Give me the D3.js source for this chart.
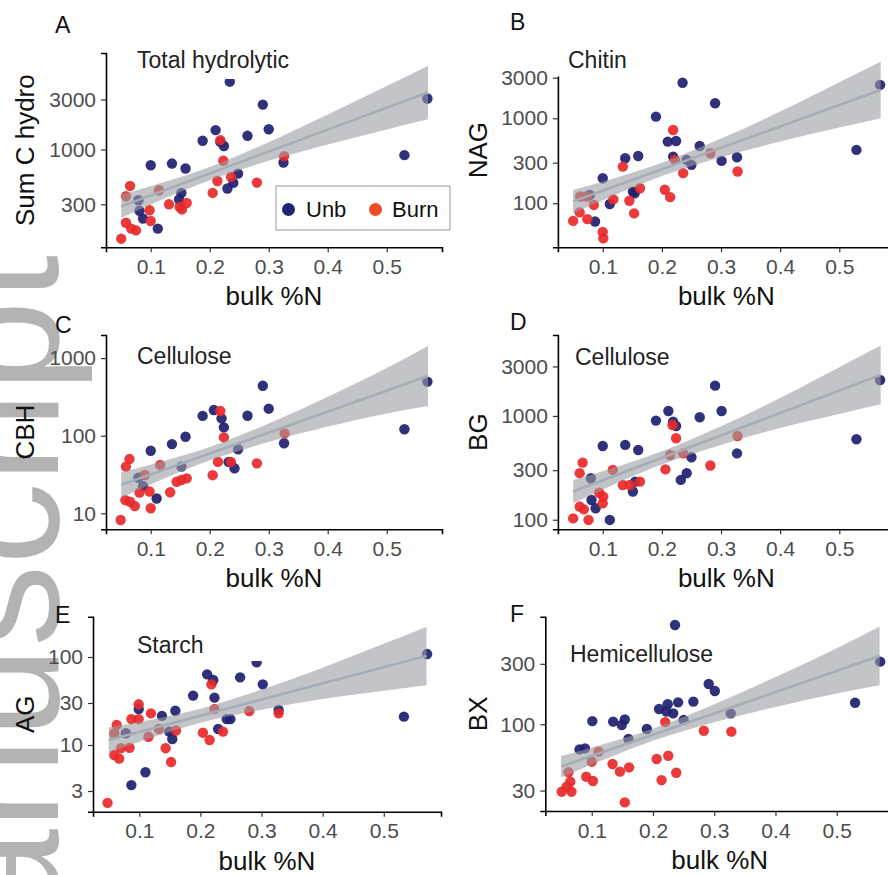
<!DOCTYPE html>
<html>
<head>
<meta charset="utf-8">
<script src="https://cdn.jsdelivr.net/npm/d3@7"></script>
<style>
  body { margin: 0; background: #fff; }
  svg { display: block; font-family: "Liberation Sans", Arial, sans-serif; }
</style>
</head>
<body>
<div id="chart"></div>
<script>
// ---- data: [bulk %N, enzyme activity] ----
const xTicks = [0.1, 0.2, 0.3, 0.4, 0.5];
const bandX = [0.05, 0.12, 0.2, 0.3, 0.4, 0.5, 0.57];
const fitX = [0.05, 0.57];
const groups = ["Unb", "Burn"];

// A  Total hydrolytic
const A_unb = [[0.234,4430],[0.290,2680],[0.569,3060],[0.210,1530],[0.300,1560],[0.264,1350],[0.188,1210],[0.218,1180],[0.224,1080],[0.530,883],[0.325,752],[0.100,708],[0.136,734],[0.159,658],[0.248,589],[0.240,480],[0.230,424],[0.152,385],[0.148,333],[0.079,328],[0.081,260],[0.087,219],[0.112,176]];
const A_burn = [[0.218,1227],[0.223,780],[0.326,863],[0.236,548],[0.213,501],[0.280,483],[0.205,385],[0.065,449],[0.058,358],[0.114,408],[0.131,300],[0.149,283],[0.161,309],[0.153,268],[0.098,263],[0.100,208],[0.058,200],[0.067,176],[0.075,169],[0.050,141]];
const A_lo = [222,335,509,780,1117,1553,1945];
const A_hi = [371,483,682,1175,2158,4030,6295];
const A_fit = [287,3500];
const A_ticks = [300,1000,3000];

// B  Chitin
const B_unb = [[0.235,2620],[0.569,2470],[0.290,1500],[0.190,1045],[0.210,531],[0.224,540],[0.264,472],[0.529,424],[0.138,338],[0.160,360],[0.219,354],[0.242,324],[0.301,315],[0.327,348],[0.250,283],[0.100,197],[0.151,137],[0.154,131],[0.078,125],[0.112,98],[0.087,61]];
const B_burn = [[0.219,728],[0.134,270],[0.222,324],[0.282,387],[0.236,226],[0.328,236],[0.205,144],[0.214,118],[0.163,150],[0.118,111],[0.145,107],[0.153,76],[0.062,120],[0.073,120],[0.085,95.5],[0.061,78],[0.074,65],[0.050,62],[0.100,46],[0.101,38.7]];
const B_lo = [76,125,209,348,531,776,1000];
const B_hi = [143,197,300,576,1198,2649,4634];
const B_fit = [105,2153];
const B_ticks = [100,300,1000,3000];

// C  Cellulose (CBH)
const C_unb = [[0.569,498],[0.290,441],[0.300,223],[0.207,214],[0.188,180],[0.264,181],[0.220,167],[0.224,128],[0.530,121],[0.159,97],[0.136,78],[0.326,80],[0.248,67],[0.100,64],[0.232,46],[0.242,38],[0.152,40],[0.079,28.7],[0.087,22.4],[0.110,15.5]];
const C_burn = [[0.218,208],[0.224,95],[0.327,107],[0.214,46],[0.236,46],[0.280,44],[0.205,31],[0.064,50],[0.058,40],[0.116,42],[0.144,25.5],[0.152,26.9],[0.161,28.2],[0.133,18.7],[0.090,31.2],[0.081,18.5],[0.098,19.1],[0.057,14.8],[0.065,14.1],[0.073,12.4],[0.100,11.6],[0.049,8.2]];
const C_lo = [15.9,27.4,48.2,83,131,194,242];
const C_hi = [33.7,46.8,71.6,144,318,745,1432];
const C_fit = [23.2,588];
const C_ticks = [10,100,1000];

// D  Cellulose (BG)
const D_unb = [[0.569,2220],[0.290,1960],[0.211,1117],[0.301,1117],[0.190,902],[0.264,971],[0.219,881],[0.224,801],[0.529,596],[0.100,514],[0.138,526],[0.160,470],[0.327,436],[0.250,400],[0.242,281],[0.232,242],[0.155,233],[0.151,187],[0.080,251],[0.081,155],[0.088,129],[0.112,99.6]];
const D_burn = [[0.218,819],[0.224,610],[0.328,641],[0.214,421],[0.236,436],[0.282,333],[0.206,306],[0.066,355],[0.061,281],[0.117,302],[0.134,216],[0.146,216],[0.163,233],[0.094,182],[0.101,167],[0.100,144],[0.061,134],[0.068,126],[0.050,103],[0.076,99.6]];
const D_lo = [144,220,340,526,766,1045,1296];
const D_hi = [241,318,457,795,1490,2944,4765];
const D_fit = [187,2484];
const D_ticks = [100,300,1000,3000];

// E  Starch
const E_unb = [[0.571,108],[0.292,87],[0.211,63.5],[0.221,54.8],[0.265,58.7],[0.302,48.9],[0.188,36.4],[0.223,34.5],[0.099,25.6],[0.159,24.5],[0.137,21.4],[0.328,25],[0.533,21],[0.243,19.7],[0.249,19.7],[0.149,14.2],[0.154,11.7],[0.229,15.2],[0.078,13.6],[0.110,4.9],[0.087,3.5]];
const E_burn = [[0.218,48.9],[0.223,25.6],[0.280,24.3],[0.328,22.9],[0.099,29],[0.119,22.9],[0.087,19.7],[0.099,19.7],[0.063,16.9],[0.132,15.2],[0.160,14.6],[0.204,13.8],[0.237,14.2],[0.215,11.4],[0.115,12.4],[0.059,13.6],[0.143,9.2],[0.070,9.2],[0.084,9.3],[0.059,7.7],[0.067,7.0],[0.152,6.4],[0.048,2.2]];
const E_lo = [8.2,12.1,17.9,25.2,33.3,41.4,47.7];
const E_hi = [15.9,19.4,25.9,42.6,75.7,141,221];
const E_fit = [11.4,103];
const E_ticks = [3,10,30,100];

// F  Hemicellulose
const F_unb = [[0.236,607],[0.571,312],[0.291,208],[0.301,183],[0.266,151],[0.241,149],[0.224,144],[0.210,132],[0.530,148],[0.233,122],[0.222,126],[0.327,122],[0.101,106],[0.135,105],[0.149,98.7],[0.154,109],[0.250,108],[0.190,91.8],[0.160,76.6],[0.080,63.4],[0.089,64.6]];
const F_burn = [[0.220,104],[0.283,89],[0.328,87.5],[0.111,60.8],[0.100,50.7],[0.134,48.6],[0.206,53.2],[0.225,56.5],[0.161,45.7],[0.146,42.3],[0.238,41.5],[0.214,36.3],[0.091,38.6],[0.102,35.7],[0.062,41.8],[0.065,35.2],[0.059,32.2],[0.067,29.4],[0.051,29.4],[0.154,24.2]];
const F_lo = [38.1,52.8,74.3,104,137,175,203];
const F_hi = [56.2,69.9,92.3,144,236,398,590];
const F_fit = [46.4,346];
const F_ticks = [30,100,300];

var panels = [
  {letter:"A", ytitle:"Sum C hydro", note:"Total hydrolytic", unb:A_unb, burn:A_burn, lo:A_lo, hi:A_hi, fit:A_fit, ticks:A_ticks,
   l:106, r:442, t:53, b:247.3, ydom:[116.7,8318], lp:[55,33], np:[137,68], tx:33.5, mask:[118,40,185,39]},
  {letter:"B", ytitle:"NAG", note:"Chitin", unb:B_unb, burn:B_burn, lo:B_lo, hi:B_hi, fit:B_fit, ticks:B_ticks,
   l:557.9, r:894.7, t:53, b:247.3, ydom:[30.3,5861], lp:[510,30], np:[568,68], tx:486.5, mask:[549,40,100,36.5]},
  {letter:"C", ytitle:"CBH", note:"Cellulose", unb:C_unb, burn:C_burn, lo:C_lo, hi:C_hi, fit:C_fit, ticks:C_ticks,
   l:106, r:442, t:335, b:529.3, ydom:[6.22,1986], lp:[55,333], np:[137,364], tx:33.5},
  {letter:"D", ytitle:"BG", note:"Cellulose", unb:D_unb, burn:D_burn, lo:D_lo, hi:D_hi, fit:D_fit, ticks:D_ticks,
   l:557.9, r:894.7, t:335, b:529.3, ydom:[80.9,6026], lp:[510,330], np:[575,365], tx:486.5},
  {letter:"E", ytitle:"AG", note:"Starch", unb:E_unb, burn:E_burn, lo:E_lo, hi:E_hi, fit:E_fit, ticks:E_ticks,
   l:93, r:441, t:616.7, b:811.7, ydom:[1.746,287], lp:[55,623], np:[137,653], tx:33.5, mask:[120,628,150,33]},
  {letter:"F", ytitle:"BX", note:"Hemicellulose", unb:F_unb, burn:F_burn, lo:F_lo, hi:F_hi, fit:F_fit, ticks:F_ticks,
   l:545.3, r:894.1, t:616.7, b:811, ydom:[20.7,706], lp:[510,622], np:[570,662], tx:486.5}
];

var colUnb = "#1f2070", colBurn = "#e8292a";
var width = 888, height = 875;

var svg = d3.select("#chart").append("svg")
  .attr("width", width)
  .attr("height", height);

// watermark along the left edge
svg.append("text")
  .attr("transform", "translate(58,255) rotate(-90)")
  .attr("text-anchor", "end")
  .style("font-size", "164px")
  .style("fill", "#b3b3b3")
  .text("Manuscript");

panels.forEach(function(p) {
  var x = d3.scaleLinear().domain([0.0242, 0.5937]).range([p.l, p.r]);
  var y = d3.scaleLog().domain(p.ydom).range([p.b, p.t]);
  var g = svg.append("g");

  // points: unburned first, burned on top
  [[p.unb, colUnb], [p.burn, colBurn]].forEach(function(s) {
    g.selectAll(null)
      .data(s[0])
      .enter()
      .append("circle")
      .attr("cx", function(d){ return x(d[0]); })
      .attr("cy", function(d){ return y(d[1]); })
      .attr("r", 5.2)
      .style("fill", s[1])
      .style("fill-opacity", 0.92);
  });

  // confidence band + fit line
  var band = bandX.map(function(v, i){ return [v, p.lo[i], p.hi[i]]; });
  g.append("path")
    .datum(band)
    .attr("d", d3.area()
      .x(function(d){ return x(d[0]); })
      .y0(function(d){ return y(d[1]); })
      .y1(function(d){ return y(d[2]); })
      .curve(d3.curveMonotoneX))
    .style("fill", "#9a9da1")
    .style("fill-opacity", 0.6);

  g.append("path")
    .datum(fitX.map(function(v, i){ return [v, p.fit[i]]; }))
    .attr("d", d3.line()
      .x(function(d){ return x(d[0]); })
      .y(function(d){ return y(d[1]); }))
    .style("fill", "none")
    .style("stroke", "#a3adb7")
    .style("stroke-width", 2.5);

  // axes
  var ax = g.append("g").attr("transform", "translate(0," + p.b + ")")
    .call(d3.axisBottom(x).tickValues(xTicks).tickSize(5).tickPadding(6)
      .tickFormat(d3.format(".1f")));
  var ay = g.append("g").attr("transform", "translate(" + p.l + ",0)")
    .call(d3.axisLeft(y).tickValues(p.ticks).tickSize(5).tickPadding(5)
      .tickFormat(d3.format("d")));
  [ax, ay].forEach(function(a) {
    a.select(".domain").style("stroke", "#000").style("stroke-width", 1.6);
    a.selectAll(".tick line").style("stroke", "#333").style("stroke-width", 1.2);
    a.selectAll(".tick text")
      .style("font-size", "21px")
      .style("fill", "#4d4d4d")
      .style("font-family", "'Liberation Sans', Arial, sans-serif");
  });
  ax.selectAll(".tick text").attr("dy", "0.75em");

  // white box behind the panel note
  if (p.mask) {
    g.append("rect")
      .attr("x", p.mask[0]).attr("y", p.mask[1])
      .attr("width", p.mask[2]).attr("height", p.mask[3])
      .style("fill", "#fff");
  }

  g.append("text")
    .attr("x", p.np[0]).attr("y", p.np[1])
    .style("font-size", "23px")
    .style("fill", "#222")
    .text(p.note);

  g.append("text")
    .attr("x", p.lp[0]).attr("y", p.lp[1])
    .style("font-size", "23px")
    .style("fill", "#111")
    .text(p.letter);

  g.append("text")
    .attr("x", (p.l + p.r) / 2).attr("y", p.b + 58)
    .attr("text-anchor", "middle")
    .style("font-size", "26px")
    .style("fill", "#111")
    .text("bulk %N");

  g.append("text")
    .attr("transform", "translate(" + p.tx + "," + ((p.t + p.b) / 2) + ") rotate(-90)")
    .attr("text-anchor", "middle")
    .style("font-size", "26px")
    .style("fill", "#111")
    .text(p.ytitle);
});

// legend inside panel A
var leg = svg.append("g").attr("transform", "translate(276,186)");
leg.append("rect")
  .attr("width", 174).attr("height", 44)
  .style("fill", "#fff")
  .style("stroke", "#9a9a9a")
  .style("stroke-width", 1);
var legCols = ["#222274", "#ef4b26"];
groups.forEach(function(name, i) {
  var ox = i * 87;
  leg.append("circle")
    .attr("cx", 12.5 + ox).attr("cy", 23.5).attr("r", 6.5)
    .style("fill", legCols[i]);
  leg.append("text")
    .attr("x", (i ? 116 : 30)).attr("y", 31)
    .style("font-size", "22px")
    .style("fill", "#111")
    .text(name);
});
</script>
</body>
</html>
